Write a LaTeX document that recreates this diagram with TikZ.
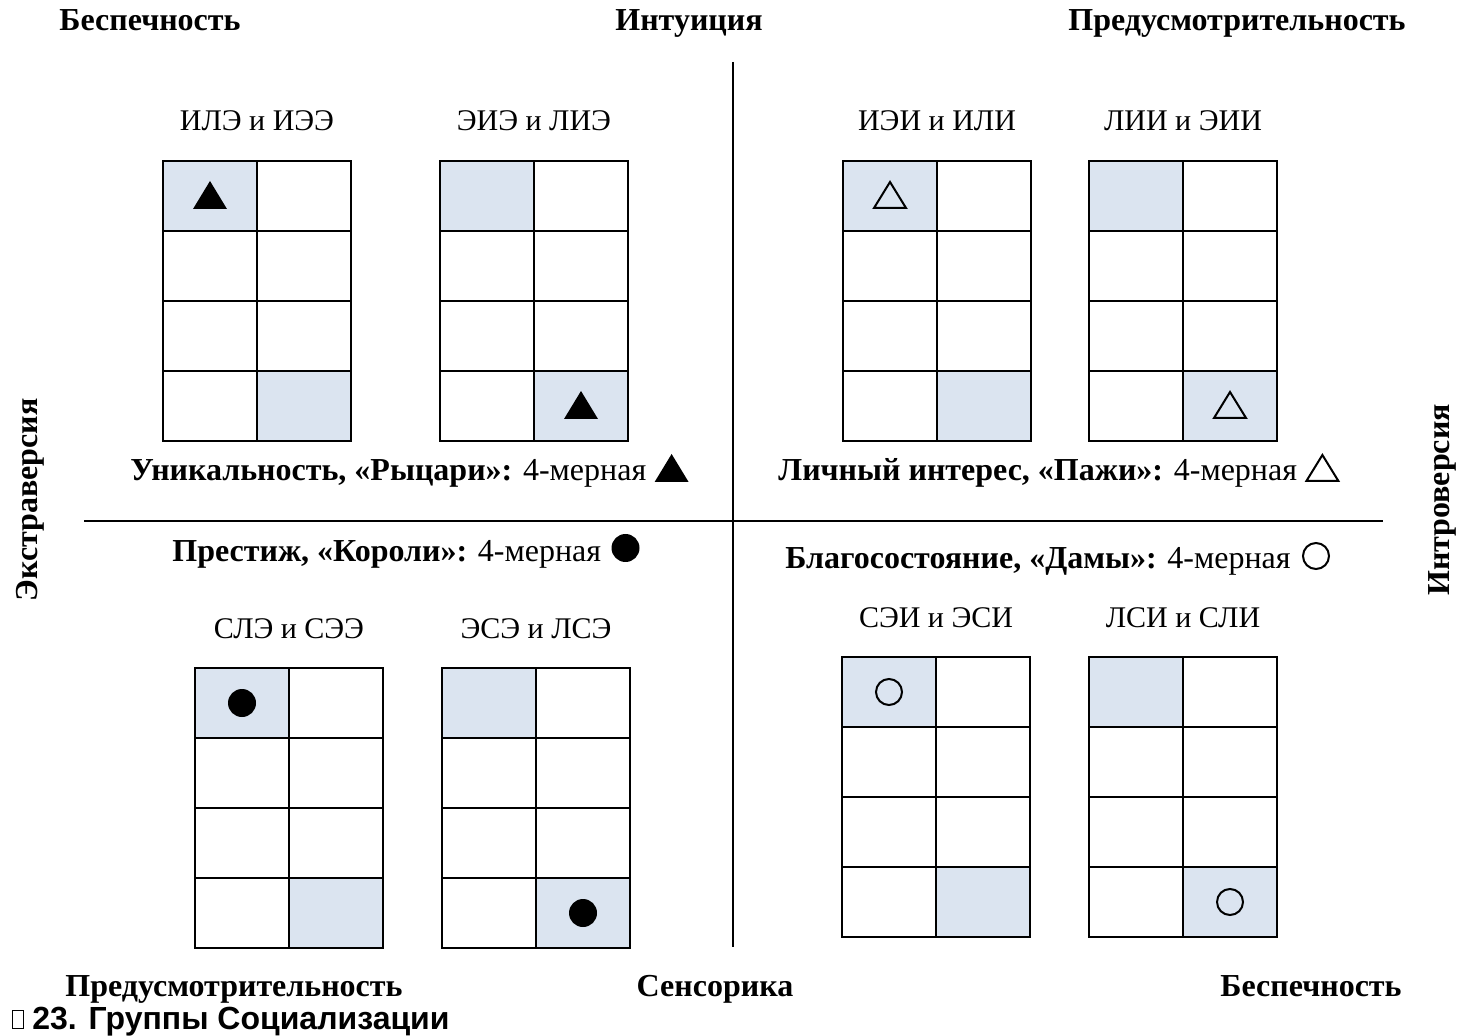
\documentclass[tikz,border=0pt]{standalone}
\usepackage{fontspec}
\setmainfont{Liberation Serif}
\newfontfamily\captionfont{Liberation Sans}
\usetikzlibrary{calc}

\definecolor{cellblue}{RGB}{219,228,240}

\def \cellW {94}
\def \cellH {70}
\def \symR {14}

\tikzset{
  gridline/.style={line width=1.2pt, line cap=rect},
  axis/.style={line width=1pt},
  grouplabel/.style={font=\fontsize{15}{17}\selectfont, anchor=base},
  polelabel/.style={font=\fontsize{16}{18}\selectfont\bfseries, anchor=base},
  sidelabel/.style={font=\fontsize{16}{18}\selectfont\bfseries, rotate=90},
  quadlabel/.style={font=\fontsize{16}{18}\selectfont, anchor=base west, inner sep=0pt},
  none/.pic={},
  tri/.pic={\fill (0,-15) -- (17,13) -- (-17,13) -- cycle;},
  otri/.pic={\draw[line width=1pt, line join=miter] (0,-14) -- (16,12) -- (-16,12) -- cycle;},
  dot/.pic={\fill (0,0) circle (\symR);},
  odot/.pic={\draw[line width=1pt] (0,0) circle (13);},
}

% one pair of types: 2x4 cells from corner (#1,#2), symbol top left #5, bottom right #6
\newcommand{\socgrid}[6]{%
  \fill[cellblue] (#1,#2) rectangle ++(\cellW,\cellH);
  \fill[cellblue] (#1+\cellW,#2+3*\cellH) rectangle ++(\cellW,\cellH);
  \foreach \i in {0,1,2}
    \draw[gridline] (#1+\i*\cellW,#2) -- ++(0,4*\cellH);
  \foreach \j in {0,...,4}
    \draw[gridline] (#1,#2+\j*\cellH) -- ++(2*\cellW,0);
  \node[grouplabel] (#3) at (#1+\cellW,#2-30) {#4};
  \pic at (#1+\cellW/2,#2+\cellH/2) {#5};
  \pic at (#1+3*\cellW/2,#2+7*\cellH/2) {#6};
}

\begin{document}
\begin{tikzpicture}[x=0.5pt, y=-0.5pt]
  \fill[white] (0,0) rectangle (1465,1036);
  \useasboundingbox (0,0) rectangle (1465,1036);

  % axes
  \coordinate (north) at (733,62);
  \coordinate (south) at (733,947);
  \coordinate (west) at (84,521);
  \coordinate (east) at (1383,521);
  \draw[axis] (north) -- (south);
  \draw[axis] (west) -- (east);

  % poles
  \node[polelabel] (carelessTop) at (150,31) {Беспечность};
  \node[polelabel] (intuition) at (689,31) {Интуиция};
  \node[polelabel] (prudentTop) at (1237,31) {Предусмотрительность};
  \node[polelabel] (prudentBottom) at (234,996) {Предусмотрительность};
  \node[polelabel] (sensing) at (715,996) {Сенсорика};
  \node[polelabel] (carelessBottom) at (1311,996) {Беспечность};
  \node[sidelabel] (extra) at (30,500) {Экстраверсия};
  \node[sidelabel] (intro) at (1442,500) {Интроверсия};

  % groups
  \socgrid{163}{161}{ile}{ИЛЭ и ИЭЭ}{tri}{none}
  \socgrid{440}{161}{eie}{ЭИЭ и ЛИЭ}{none}{tri}
  \socgrid{843}{161}{iei}{ИЭИ и ИЛИ}{otri}{none}
  \socgrid{1089}{161}{lii}{ЛИИ и ЭИИ}{none}{otri}
  \socgrid{195}{668}{sle}{СЛЭ и СЭЭ}{dot}{none}
  \socgrid{442}{668}{ese}{ЭСЭ и ЛСЭ}{none}{dot}
  \socgrid{842}{657}{sei}{СЭИ и ЭСИ}{odot}{none}
  \socgrid{1089}{657}{lsi}{ЛСИ и СЛИ}{none}{odot}

  % quadrant captions
  \node[quadlabel] (knights) at (130,481) {\textbf{Уникальность, «Рыцари»:} 4-мерная};
  \pic at ($(knights.base east)+(25,-12)$) {tri};
  \node[quadlabel] (pages) at (778,481) {\textbf{Личный интерес, «Пажи»:} 4-мерная};
  \pic at ($(pages.base east)+(25,-12)$) {otri};
  \node[quadlabel] (kings) at (172,561) {\textbf{Престиж, «Короли»:} 4-мерная};
  \pic at ($(kings.base east)+(24,-13)$) {dot};
  \node[quadlabel] (ladies) at (785,568) {\textbf{Благосостояние, «Дамы»:} 4-мерная};
  \pic at ($(ladies.base east)+(25,-12)$) {odot};

  % figure caption
  \node[draw, line width=0.6pt, minimum width=5.5pt, minimum height=9pt, inner sep=0pt, anchor=south west] (missing) at (12,1029) {};
  \node[font=\captionfont\fontsize{16}{18}\selectfont\bfseries, anchor=base west, inner sep=0pt] (caption) at (32,1029) {23. Группы Социализации};
\end{tikzpicture}
\end{document}
